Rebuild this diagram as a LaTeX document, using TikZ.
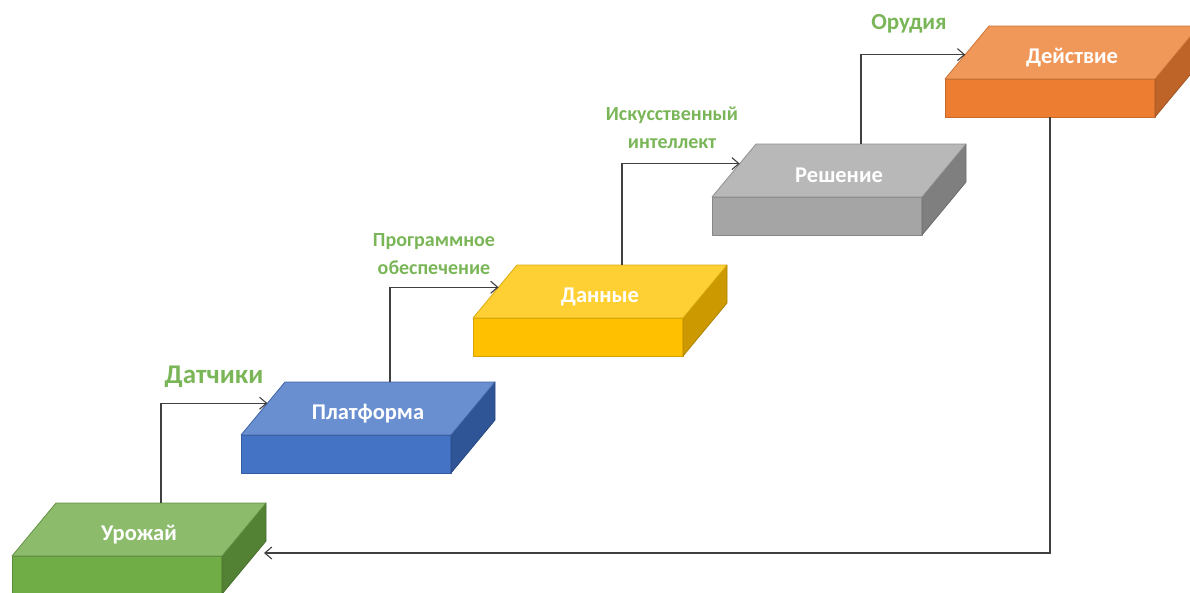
\documentclass[tikz,border=0pt]{standalone}
\usepackage{fontspec}
\setmainfont{Carlito}
\usetikzlibrary{calc,arrows.meta}
\definecolor{gTop}{RGB}{139,187,107}
\definecolor{gFront}{RGB}{112,173,71}
\definecolor{gSide}{RGB}{84,130,53}
\definecolor{bTop}{RGB}{106,143,208}
\definecolor{bFront}{RGB}{68,114,196}
\definecolor{bSide}{RGB}{47,85,151}
\definecolor{yTop}{RGB}{255,208,51}
\definecolor{yFront}{RGB}{255,192,0}
\definecolor{ySide}{RGB}{204,154,0}
\definecolor{rTop}{RGB}{184,184,184}
\definecolor{rFront}{RGB}{165,165,165}
\definecolor{rSide}{RGB}{127,127,127}
\definecolor{oTop}{RGB}{240,151,90}
\definecolor{oFront}{RGB}{237,125,49}
\definecolor{oSide}{RGB}{190,100,40}
\definecolor{lblGreen}{RGB}{122,182,88}
\definecolor{lineGray}{RGB}{64,64,64}
\tikzset{
  blocklabel/.style={text=white,font=\bfseries\fontsize{22.5}{26}\selectfont,inner sep=0pt,yshift=-5pt},
  steplabel/.style={text=lblGreen,font=\bfseries\fontsize{20}{28}\selectfont,align=center,inner sep=0pt},
  biglabel/.style={text=lblGreen,font=\bfseries\fontsize{27}{30}\selectfont,inner sep=0pt},
  conn/.style={draw=lineGray,line width=1.2pt,-{Straight Barb[length=7pt,width=12pt,line width=1.1pt]}},
  faceline/.style={line width=0.8pt,line join=round}
}
% #1 name, #2 x, #3 y (front top-left), #4 top, #5 front, #6 side, #7 text
\newcommand\slabblock[7]{%
  \coordinate (#1-fl) at (#2,#3);
  \coordinate (#1-fr) at (#2+210,#3);
  \coordinate (#1-bl) at (#2+44,#3-53);
  \coordinate (#1-br) at (#2+254,#3-53);
  \coordinate (#1-flb) at (#2,#3+38);
  \coordinate (#1-frb) at (#2+210,#3+38);
  \coordinate (#1-brb) at (#2+254,#3-15);
  \fill[#5,draw=#6!80!#5,faceline] (#1-fl) -- (#1-fr) -- (#1-frb) -- (#1-flb) -- cycle;
  \fill[#6,draw=#6!85!black,faceline] (#1-fr) -- (#1-br) -- (#1-brb) -- (#1-frb) -- cycle;
  \fill[#4,draw=#6!70!#4,faceline] (#1-fl) -- (#1-bl) -- (#1-br) -- (#1-fr) -- cycle;
  \node[blocklabel] (#1) at ($(#1-fl)!0.5!(#1-br)$) {#7};
  \coordinate (#1-out) at ($(#1-bl)!0.5!(#1-br)$);
}
\begin{document}
\begin{tikzpicture}[x=1pt,y=-1pt]
\useasboundingbox (0,0) rectangle (1190,592);
\clip (0,0) rectangle (1190,592);
\slabblock{g}{12}{556}{gTop}{gFront}{gSide}{Урожай}
\slabblock{b}{241}{435}{bTop}{bFront}{bSide}{Платформа}
\slabblock{y}{473}{318}{yTop}{yFront}{ySide}{Данные}
\slabblock{r}{712}{197}{rTop}{rFront}{rSide}{Решение}
\slabblock{o}{945}{79}{oTop}{oFront}{oSide}{Действие}
% entry points on left edges of top faces
\coordinate (b-in) at ($(b-fl)!0.6!(b-bl)$);
\coordinate (y-in) at ($(y-fl)!0.58!(y-bl)$);
\coordinate (r-in) at ($(r-fl)!0.63!(r-bl)$);
\coordinate (o-in) at ($(o-fl)!0.46!(o-bl)$);
\coordinate (o-down) at ($(o-flb)!0.5!(o-frb)$);
\coordinate (g-in) at (264,553);
% connectors
\draw[conn] (g-out) |- (b-in);
\draw[conn] (b-out) |- (y-in);
\draw[conn] (y-out) |- (r-in);
\draw[conn] (r-out) |- (o-in);
\draw[conn] (o-down) |- (g-in);
% step labels
\node[biglabel] (l1) at (214,377) {Датчики};
\node[steplabel] (l2) at (434,254) {Программное\\обеспечение};
\node[steplabel] (l3) at (672,128) {Искусственный\\интеллект};
\node[biglabel,font=\bfseries\fontsize{23}{26}\selectfont] (l4) at (909,24) {Орудия};
\end{tikzpicture}
\end{document}
